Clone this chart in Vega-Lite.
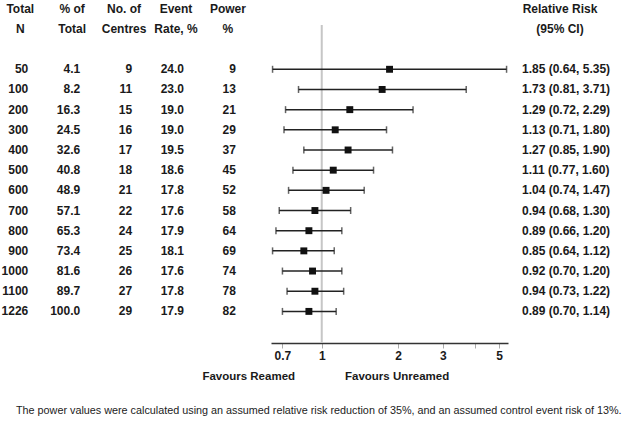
{
  "$schema": "https://vega.github.io/schema/vega-lite/v6.json",
  "padding": 0,
  "background": "white",
  "bounds": "flush",
  "spacing": 10,
  "config": {
    "view": {"stroke": null},
    "font": "Liberation Sans",
    "text": {"font": "Liberation Sans", "fontSize": 12, "fontWeight": "bold", "color": "#1a1a1a", "baseline": "middle"}
  },
  "title": {
    "text": "The power values were calculated using an assumed relative risk reduction of 35%, and an assumed control event risk of 13%.",
    "orient": "bottom",
    "anchor": "start",
    "font": "Liberation Sans",
    "fontSize": 10.8,
    "fontWeight": "normal",
    "color": "#222222",
    "offset": 23,
    "dx": 16
  },
  "datasets": {
    "rows": [
      {"N": "50", "pct": "4.1", "centres": "9", "event": "24.0", "power": "9", "rr": 1.85, "lo": 0.64, "hi": 5.35, "label": "1.85 (0.64, 5.35)"},
      {"N": "100", "pct": "8.2", "centres": "11", "event": "23.0", "power": "13", "rr": 1.73, "lo": 0.81, "hi": 3.71, "label": "1.73 (0.81, 3.71)"},
      {"N": "200", "pct": "16.3", "centres": "15", "event": "19.0", "power": "21", "rr": 1.29, "lo": 0.72, "hi": 2.29, "label": "1.29 (0.72, 2.29)"},
      {"N": "300", "pct": "24.5", "centres": "16", "event": "19.0", "power": "29", "rr": 1.13, "lo": 0.71, "hi": 1.80, "label": "1.13 (0.71, 1.80)"},
      {"N": "400", "pct": "32.6", "centres": "17", "event": "19.5", "power": "37", "rr": 1.27, "lo": 0.85, "hi": 1.90, "label": "1.27 (0.85, 1.90)"},
      {"N": "500", "pct": "40.8", "centres": "18", "event": "18.6", "power": "45", "rr": 1.11, "lo": 0.77, "hi": 1.60, "label": "1.11 (0.77, 1.60)"},
      {"N": "600", "pct": "48.9", "centres": "21", "event": "17.8", "power": "52", "rr": 1.04, "lo": 0.74, "hi": 1.47, "label": "1.04 (0.74, 1.47)"},
      {"N": "700", "pct": "57.1", "centres": "22", "event": "17.6", "power": "58", "rr": 0.94, "lo": 0.68, "hi": 1.30, "label": "0.94 (0.68, 1.30)"},
      {"N": "800", "pct": "65.3", "centres": "24", "event": "17.9", "power": "64", "rr": 0.89, "lo": 0.66, "hi": 1.20, "label": "0.89 (0.66, 1.20)"},
      {"N": "900", "pct": "73.4", "centres": "25", "event": "18.1", "power": "69", "rr": 0.85, "lo": 0.64, "hi": 1.12, "label": "0.85 (0.64, 1.12)"},
      {"N": "1000", "pct": "81.6", "centres": "26", "event": "17.6", "power": "74", "rr": 0.92, "lo": 0.70, "hi": 1.20, "label": "0.92 (0.70, 1.20)"},
      {"N": "1100", "pct": "89.7", "centres": "27", "event": "17.8", "power": "78", "rr": 0.94, "lo": 0.73, "hi": 1.22, "label": "0.94 (0.73, 1.22)"},
      {"N": "1226", "pct": "100.0", "centres": "29", "event": "17.9", "power": "82", "rr": 0.89, "lo": 0.70, "hi": 1.14, "label": "0.89 (0.70, 1.14)"}
    ],
    "headers": [
      {"col": "N", "line": "h1", "text": "Total"},
      {"col": "N", "line": "h2", "text": "N"},
      {"col": "pct", "line": "h1", "text": "% of"},
      {"col": "pct", "line": "h2", "text": "Total"},
      {"col": "centres", "line": "h1", "text": "No. of"},
      {"col": "centres", "line": "h2", "text": "Centres"},
      {"col": "event", "line": "h1", "text": "Event"},
      {"col": "event", "line": "h2", "text": "Rate, %"},
      {"col": "power", "line": "h1", "text": "Power"},
      {"col": "power", "line": "h2", "text": "%"}
    ],
    "rrhead": [
      {"line": "h1", "text": "Relative Risk"},
      {"line": "h2", "text": "(95% CI)"}
    ]
  },
  "hconcat": [
    {
      "width": 261,
      "height": 343,
      "layer": [
        {
          "data": {"name": "headers"},
          "mark": {"type": "text", "align": "center"},
          "encoding": {
            "x": {"field": "col", "type": "nominal", "scale": {"type": "point", "domain": ["N", "pct", "centres", "event", "power"], "padding": 0.514, "align": 0.38}, "axis": null},
            "y": {"field": "line", "type": "nominal", "scale": {"type": "point", "domain": ["h1", "h2", "gap", "50", "100", "200", "300", "400", "500", "600", "700", "800", "900", "1000", "1100", "1226"], "padding": 1.16, "align": 0.217}, "axis": null},
            "text": {"field": "text"}
          }
        },
        {
          "data": {"name": "rows"},
          "transform": [{"fold": ["N", "pct", "centres", "event", "power"], "as": ["col", "value"]}],
          "mark": {"type": "text", "align": "right", "dx": 8},
          "encoding": {
            "x": {"field": "col", "type": "nominal", "scale": {"type": "point", "domain": ["N", "pct", "centres", "event", "power"], "padding": 0.514, "align": 0.38}, "axis": null},
            "y": {"field": "N", "type": "nominal", "scale": {"type": "point", "domain": ["h1", "h2", "gap", "50", "100", "200", "300", "400", "500", "600", "700", "800", "900", "1000", "1100", "1226"], "padding": 1.16, "align": 0.217}, "axis": null},
            "text": {"field": "value"}
          }
        }
      ]
    },
    {
      "width": 237,
      "height": 343,
      "resolve": {"scale": {"y": "independent"}},
      "layer": [
        {
          "data": {"values": [{}]},
          "mark": {"type": "rule", "color": "#c6c6c6", "strokeWidth": 2},
          "encoding": {
            "x": {
              "datum": 1, "type": "quantitative",
              "scale": {"type": "log", "domain": [0.631, 5.42], "nice": false},
              "axis": {
                "values": [0.7, 1, 2, 3, 4, 5],
                "format": "~g",
                "labelExpr": "datum.value == 4 ? '' : datum.label",
                "title": null,
                "grid": false,
                "domainColor": "#333333",
                "domainWidth": 1.5,
                "tickColor": "#aaaaaa",
                "tickSize": 5,
                "tickWidth": 1,
                "labelFont": "Liberation Sans",
                "labelFontSize": 12,
                "labelFontWeight": "bold",
                "labelColor": "#1a1a1a",
                "labelPadding": 2,
                "labelFlush": false,
                "labelOverlap": false
              }
            },
            "y": {"datum": -2.24, "type": "quantitative", "scale": {"domain": [-3.505, 13.818], "reverse": true, "nice": false, "zero": false}, "axis": null},
            "y2": {"datum": 13.818}
          }
        },
        {
          "data": {"name": "rows"},
          "mark": {"type": "rule", "color": "#222222", "strokeWidth": 1.5},
          "encoding": {
            "x": {"field": "lo", "type": "quantitative", "scale": {"type": "log", "domain": [0.631, 5.42], "nice": false}},
            "x2": {"field": "hi"},
            "y": {"field": "N", "type": "nominal", "scale": {"type": "point", "domain": ["h1", "h2", "gap", "50", "100", "200", "300", "400", "500", "600", "700", "800", "900", "1000", "1100", "1226"], "padding": 1.16, "align": 0.217}, "axis": null}
          }
        },
        {
          "data": {"name": "rows"},
          "transform": [{"fold": ["lo", "hi"], "as": ["end", "ci"]}],
          "mark": {"type": "tick", "color": "#222222", "size": 7, "thickness": 1.5, "orient": "vertical"},
          "encoding": {
            "x": {"field": "ci", "type": "quantitative", "scale": {"type": "log", "domain": [0.631, 5.42], "nice": false}},
            "y": {"field": "N", "type": "nominal", "scale": {"type": "point", "domain": ["h1", "h2", "gap", "50", "100", "200", "300", "400", "500", "600", "700", "800", "900", "1000", "1100", "1226"], "padding": 1.16, "align": 0.217}, "axis": null}
          }
        },
        {
          "data": {"name": "rows"},
          "mark": {"type": "point", "shape": "square", "filled": true, "color": "#111111", "size": 48, "opacity": 1},
          "encoding": {
            "x": {"field": "rr", "type": "quantitative", "scale": {"type": "log", "domain": [0.631, 5.42], "nice": false}},
            "y": {"field": "N", "type": "nominal", "scale": {"type": "point", "domain": ["h1", "h2", "gap", "50", "100", "200", "300", "400", "500", "600", "700", "800", "900", "1000", "1100", "1226"], "padding": 1.16, "align": 0.217}, "axis": null}
          }
        },
        {
          "data": {"values": [{}]},
          "mark": {"type": "text", "align": "right", "fontSize": 11.5},
          "encoding": {
            "x": {"datum": 0.785, "type": "quantitative", "scale": {"type": "log", "domain": [0.631, 5.42], "nice": false}},
            "y": {"datum": 15.53, "type": "quantitative", "scale": {"domain": [-3.505, 13.818], "reverse": true, "nice": false, "zero": false}, "axis": null},
            "text": {"value": "Favours Reamed"}
          }
        },
        {
          "data": {"values": [{}]},
          "mark": {"type": "text", "align": "left", "fontSize": 11.5},
          "encoding": {
            "x": {"datum": 1.235, "type": "quantitative", "scale": {"type": "log", "domain": [0.631, 5.42], "nice": false}},
            "y": {"datum": 15.53, "type": "quantitative", "scale": {"domain": [-3.505, 13.818], "reverse": true, "nice": false, "zero": false}, "axis": null},
            "text": {"value": "Favours Unreamed"}
          }
        }
      ]
    },
    {
      "width": 84,
      "height": 343,
      "layer": [
        {
          "data": {"name": "rrhead"},
          "mark": {"type": "text", "align": "center"},
          "encoding": {
            "y": {"field": "line", "type": "nominal", "scale": {"type": "point", "domain": ["h1", "h2", "gap", "50", "100", "200", "300", "400", "500", "600", "700", "800", "900", "1000", "1100", "1226"], "padding": 1.16, "align": 0.217}, "axis": null},
            "text": {"field": "text"}
          }
        },
        {
          "data": {"name": "rows"},
          "mark": {"type": "text", "align": "left", "dx": -38},
          "encoding": {
            "y": {"field": "N", "type": "nominal", "scale": {"type": "point", "domain": ["h1", "h2", "gap", "50", "100", "200", "300", "400", "500", "600", "700", "800", "900", "1000", "1100", "1226"], "padding": 1.16, "align": 0.217}, "axis": null},
            "text": {"field": "label"}
          }
        }
      ]
    }
  ]
}
